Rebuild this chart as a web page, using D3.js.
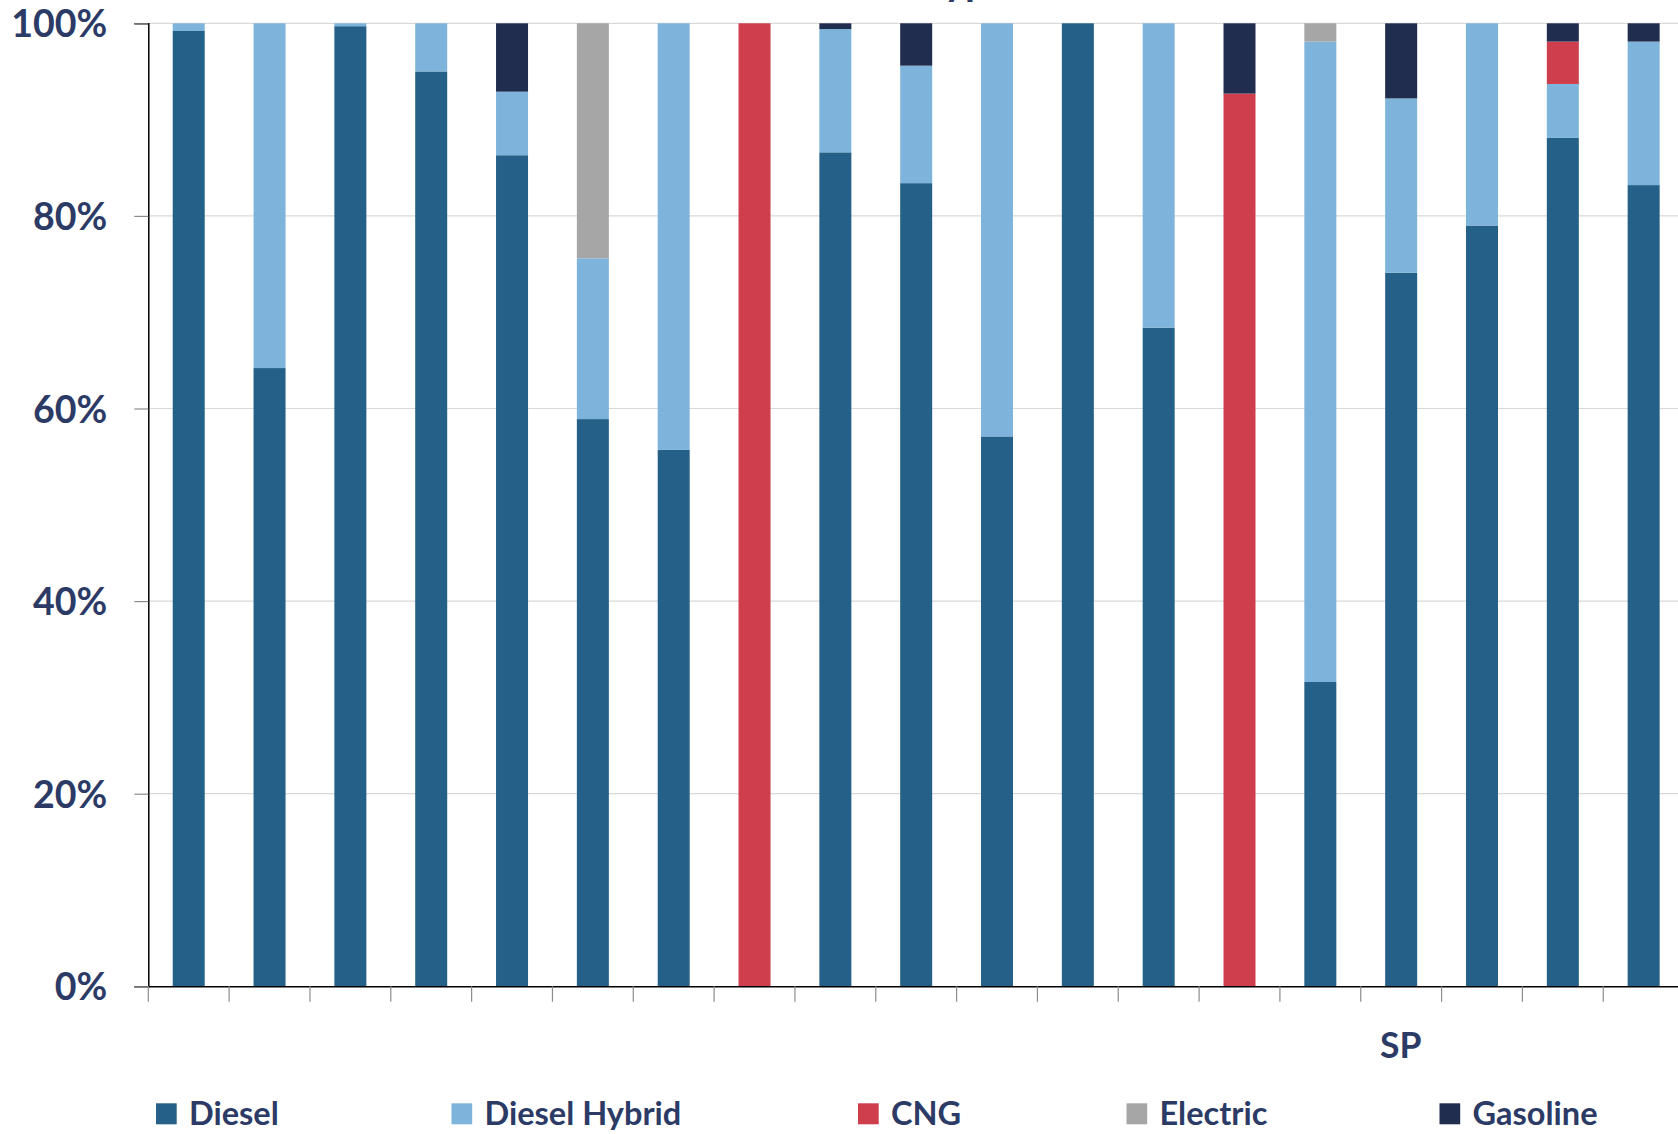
<!DOCTYPE html>
<html>
<head>
<meta charset="utf-8">
<script src="https://cdn.jsdelivr.net/npm/d3@7"></script>
<style>
  html, body { margin: 0; padding: 0; background: #ffffff; overflow: hidden; }
  svg { display: block; font-family: Lato, "Open Sans", sans-serif; }
</style>
</head>
<body>
<svg id="chart" width="1678" height="1134"></svg>
<script>
// Fleet share by fuel type, one stacked 100% bar per agency
const categories = ["A01","A02","A03","A04","A05","A06","A07","A08","A09","A10",
                    "A11","A12","A13","A14","A15","A16","A17","A18","A19"];
const fuelTypes = ["Diesel", "Diesel Hybrid", "CNG", "Electric", "Gasoline"];

// Share (%) of each fuel type per agency
const diesel       = [99.2, 64.2, 99.7, 95.0, 86.3, 58.9, 55.7,   0, 86.6, 83.4, 57.1, 100, 68.4,    0, 31.6, 74.1, 79.0, 88.1, 83.2];
const dieselHybrid = [ 0.8, 35.8,  0.3,  5.0,  6.6, 16.7, 44.3,   0, 12.8, 12.2, 42.9,   0, 31.6,    0, 66.5, 18.1, 21.0,  5.6, 14.9];
const cng          = [   0,    0,    0,    0,    0,    0,    0, 100,    0,    0,    0,   0,    0, 92.7,    0,    0,    0,  4.4,    0];
const electric     = [   0,    0,    0,    0,    0, 24.4,    0,   0,    0,    0,    0,   0,    0,    0,  1.9,    0,    0,    0,    0];
const gasoline     = [   0,    0,    0,    0,  7.1,    0,    0,   0,  0.6,  4.4,    0,   0,    0,  7.3,    0,  7.8,    0,  1.9,  1.9];

const yTicks = [0, 20, 40, 60, 80, 100];
const groupLabel = "SP";
const titleText = "Fuel Type";

const colors = {
  "Diesel": "#246087",
  "Diesel Hybrid": "#7eb4dc",
  "CNG": "#ce3e4c",
  "Electric": "#a6a6a6",
  "Gasoline": "#212d4e"
};
const textColor = "#2c3b66";

const rows = categories.map((c, i) => ({
  category: c,
  "Diesel": diesel[i],
  "Diesel Hybrid": dieselHybrid[i],
  "CNG": cng[i],
  "Electric": electric[i],
  "Gasoline": gasoline[i]
}));

const svg = d3.select("#chart");
const margin = { left: 148.3, top: 23.3 };
const plotBottom = 986.3;
const bandStep = 80.83;
const barWidth = 32;
const plotRight = margin.left + bandStep * categories.length;

const x = d3.scaleBand()
  .domain(categories)
  .range([margin.left, plotRight])
  .paddingInner(1 - barWidth / bandStep)
  .paddingOuter((1 - barWidth / bandStep) / 2);

const y = d3.scaleLinear().domain([0, 100]).range([plotBottom, margin.top]);

// Title (sits above the visible area)
const title = svg.append("text")
  .attr("x", 0).attr("y", -5)
  .attr("font-size", 40).attr("font-weight", 700)
  .attr("fill", textColor)
  .text(titleText);
const yIdx = titleText.indexOf("y");
const yPos = title.node().getStartPositionOfChar(yIdx).x;
title.attr("x", 944 - yPos);

// Horizontal gridlines
svg.append("g")
  .selectAll("line")
  .data(yTicks.filter(d => d > 0))
  .join("line")
  .attr("x1", margin.left).attr("x2", 1678)
  .attr("y1", d => y(d)).attr("y2", d => y(d))
  .attr("stroke", "#d9d9d9").attr("stroke-width", 1.2);

// Stacked bars
const stack = d3.stack().keys(fuelTypes)(rows);
svg.append("g")
  .selectAll("g")
  .data(stack)
  .join("g")
  .attr("fill", d => colors[d.key])
  .selectAll("rect")
  .data(d => d.filter(s => s[1] - s[0] > 0))
  .join("rect")
  .attr("x", d => x(d.data.category))
  .attr("width", x.bandwidth())
  .attr("y", d => y(d[1]))
  .attr("height", d => y(d[0]) - y(d[1]));

// Y axis
const yAxis = svg.append("g")
  .attr("transform", `translate(${margin.left},0)`)
  .call(d3.axisLeft(y).tickValues(yTicks).tickSize(14).tickPadding(0).tickFormat(d => d + "%"));
yAxis.select(".domain").attr("stroke", "#000").attr("stroke-width", 1.5);
yAxis.selectAll(".tick line").attr("stroke", "#8c8c8c").attr("stroke-width", 1.2);
yAxis.selectAll(".tick text")
  .attr("x", -41)
  .attr("dy", "0.36em")
  .attr("font-size", 37.5)
  .attr("font-weight", 700)
  .attr("font-family", "Lato, sans-serif")
  .attr("fill", textColor);

// X axis: category ticks only, no labels
const xAxis = svg.append("g")
  .attr("transform", `translate(0,${plotBottom})`)
  .call(d3.axisBottom(x).tickSize(0).tickFormat(""));
xAxis.select(".domain").attr("stroke", "#000").attr("stroke-width", 1.5);
xAxis.selectAll(".tick").remove();
svg.append("g")
  .selectAll("line")
  .data(d3.range(categories.length + 1))
  .join("line")
  .attr("x1", i => margin.left + i * x.step())
  .attr("x2", i => margin.left + i * x.step())
  .attr("y1", plotBottom).attr("y2", plotBottom + 15.5)
  .attr("stroke", "#8c8c8c").attr("stroke-width", 1.2);

// Group label under the axis
svg.append("text")
  .attr("x", 1400.8).attr("y", 1058)
  .attr("text-anchor", "middle")
  .attr("font-size", 35.5).attr("font-weight", 700)
  .attr("fill", textColor)
  .text(groupLabel);

// Legend
const legendX = [156, 451.5, 858, 1126.5, 1439.5];
const legend = svg.append("g")
  .selectAll("g")
  .data(fuelTypes)
  .join("g")
  .attr("transform", (d, i) => `translate(${legendX[i]},1103.3)`);
legend.append("rect")
  .attr("width", 20.7).attr("height", 21)
  .attr("fill", d => colors[d]);
legend.append("text")
  .attr("x", 33).attr("y", 22)
  .attr("font-size", 32.5).attr("font-weight", 700)
  .attr("fill", textColor)
  .text(d => d);
</script>
</body>
</html>
